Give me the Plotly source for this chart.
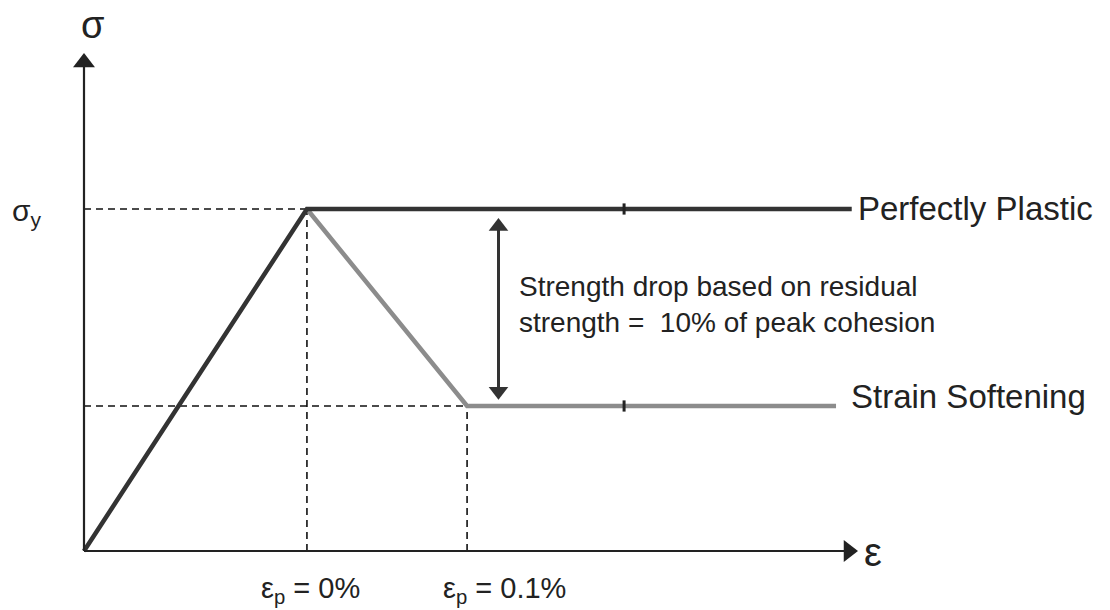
import plotly.graph_objects as go

# ---- data (normalised strain / stress units) ----
strain_yield = 0.142        # total strain at peak (εp = 0%)
strain_residual = 0.244     # strain where residual reached (εp = 0.1%)
strain_end_plastic = 0.489  # end of perfectly plastic branch
strain_end_soft = 0.479     # end of softening branch
strain_tick = 0.344         # small tick on the branches
stress_yield = 1.0
stress_residual = 0.424
axis_x_tip = 0.493
axis_y_tip = 1.456
drop_arrow_x = 0.264
drop_arrow_top = 0.974
drop_arrow_bottom = 0.442

pp_x = [0, strain_yield, strain_end_plastic]
pp_y = [0, stress_yield, stress_yield]
ss_x = [strain_yield, strain_residual, strain_end_soft]
ss_y = [stress_yield, stress_residual, stress_residual]

W, H = 1110, 610
FONT = "Liberation Sans, Arial, sans-serif"
TXT = "#222222"

# pixel scale (window pixels)
PX_X = 1570.0
PX_Y = 342.0
X0, Y0 = 84, 551

fig = go.Figure()

# dashed guide lines
guide = dict(color="#111111", width=1.6, dash="7px,5px")
fig.add_trace(go.Scatter(x=[0, strain_yield], y=[stress_yield, stress_yield], mode="lines", line=guide, hoverinfo="skip"))
fig.add_trace(go.Scatter(x=[0, strain_residual], y=[stress_residual, stress_residual], mode="lines", line=guide, hoverinfo="skip"))
fig.add_trace(go.Scatter(x=[strain_yield, strain_yield], y=[0, stress_yield], mode="lines", line=guide, hoverinfo="skip"))
fig.add_trace(go.Scatter(x=[strain_residual, strain_residual], y=[0, stress_residual], mode="lines", line=guide, hoverinfo="skip"))

# curves
fig.add_trace(go.Scatter(x=ss_x, y=ss_y, mode="lines", line=dict(color="#8c8c8c", width=4.5), hoverinfo="skip"))
fig.add_trace(go.Scatter(x=pp_x, y=pp_y, mode="lines", line=dict(color="#333333", width=4.5), hoverinfo="skip"))
fig.add_trace(go.Scatter(x=[strain_tick, strain_tick], y=[stress_yield, stress_residual], mode="markers",
                         marker=dict(symbol="line-ns", size=8, line=dict(width=3, color="#222222")), hoverinfo="skip"))

# axes with arrow heads (triangle markers; tip offset = marker radius in pixels)
AX_HEAD = 19
r_ax = AX_HEAD / 2
fig.add_trace(go.Scatter(x=[0, 0], y=[0, axis_y_tip - r_ax / PX_Y], mode="lines",
                         line=dict(color="#222222", width=2.2), hoverinfo="skip"))
fig.add_trace(go.Scatter(x=[0, axis_x_tip - r_ax / PX_X], y=[0, 0], mode="lines",
                         line=dict(color="#222222", width=2.2), hoverinfo="skip"))
fig.add_trace(go.Scatter(x=[0], y=[axis_y_tip - r_ax / PX_Y], mode="markers",
                         marker=dict(symbol="triangle-up", size=AX_HEAD, color="#222222", line=dict(width=0)),
                         hoverinfo="skip"))
fig.add_trace(go.Scatter(x=[axis_x_tip - r_ax / PX_X], y=[0], mode="markers",
                         marker=dict(symbol="triangle-right", size=AX_HEAD, color="#222222", line=dict(width=0)),
                         hoverinfo="skip"))

# strength drop double arrow
DR_HEAD = 17
r_dr = DR_HEAD / 2
fig.add_trace(go.Scatter(x=[drop_arrow_x, drop_arrow_x],
                         y=[drop_arrow_bottom + r_dr / PX_Y, drop_arrow_top - r_dr / PX_Y], mode="lines",
                         line=dict(color="#333333", width=3), hoverinfo="skip"))
fig.add_trace(go.Scatter(x=[drop_arrow_x, drop_arrow_x],
                         y=[drop_arrow_top - r_dr / PX_Y, drop_arrow_bottom + r_dr / PX_Y], mode="markers",
                         marker=dict(symbol=["triangle-up", "triangle-down"], size=DR_HEAD, color="#333333",
                                     line=dict(width=0)), hoverinfo="skip"))

def label(text, px, py, size, xanchor="left"):
    fig.add_annotation(x=px / W, y=1 - py / H, xref="paper", yref="paper", text=text,
                       showarrow=False, align="left", xanchor=xanchor, yanchor="middle",
                       font=dict(family=FONT, size=size, color=TXT))

label("σ", 92, 25, 38, "center")
label("σ<sub>y</sub>", 10, 212, 30)
label("Perfectly Plastic", 856, 209, 33)
label("Strain Softening", 849, 396, 33)
label("Strength drop based on residual<br>strength =\u00a0 10% of peak cohesion", 517, 304, 28)
label("ε", 862, 552, 40)
label("ε<sub>p</sub> = 0%", 259, 590, 29)
label("ε<sub>p</sub> = 0.1%", 441, 590, 29)

fig.update_layout(
    width=W, height=H, margin=dict(l=0, r=0, t=0, b=0),
    paper_bgcolor="white", plot_bgcolor="white", showlegend=False,
    xaxis=dict(range=[-X0 / PX_X, (W - X0) / PX_X], visible=False, fixedrange=True),
    yaxis=dict(range=[-(H - Y0) / PX_Y, Y0 / PX_Y], visible=False, fixedrange=True),
)

fig.write_html("out.html", config={"displayModeBar": False},
               post_script="document.body.style.margin='0';document.body.style.overflow='hidden';")
